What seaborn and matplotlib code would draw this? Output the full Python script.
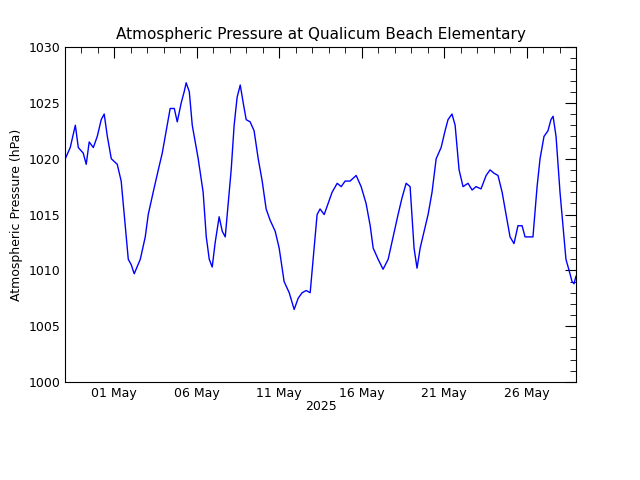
import matplotlib
matplotlib.use("Agg")
import matplotlib.pyplot as plt
import matplotlib.dates as mdates
import seaborn as sns
import pandas as pd
import numpy as np

# days since 2025-05-01 00:00 and pressure (hPa)
days = [-2.97, -2.67, -2.36, -2.18, -1.88, -1.70, -1.52, -1.27, -1.03, -0.79,
        -0.61, -0.42, -0.18, 0.18, 0.42, 0.73, 0.85, 1.03, 1.21, 1.58,
        1.88, 2.06, 2.36, 2.67, 2.91, 3.15, 3.39, 3.64, 3.82, 4.06,
        4.24, 4.36, 4.55, 4.73, 4.91, 5.09, 5.39, 5.58, 5.76, 5.94,
        6.12, 6.36, 6.55, 6.73, 6.91, 7.09, 7.27, 7.45, 7.64, 7.82,
        8.00, 8.24, 8.48, 8.73, 8.97, 9.21, 9.45, 9.76, 10.00, 10.30,
        10.61, 10.91, 11.15, 11.39, 11.64, 11.88, 12.06, 12.30, 12.48, 12.73,
        12.97, 13.21, 13.52, 13.76, 14.00, 14.30, 14.67, 14.97, 15.27, 15.52,
        15.70, 16.00, 16.30, 16.61, 16.91, 17.21, 17.45, 17.70, 17.94, 18.18,
        18.36, 18.55, 18.79, 19.03, 19.27, 19.52, 19.82, 20.06, 20.24, 20.48,
        20.67, 20.91, 21.15, 21.45, 21.70, 21.94, 22.24, 22.55, 22.79, 23.03,
        23.27, 23.52, 23.76, 24.00, 24.24, 24.48, 24.73, 24.91, 25.15, 25.39,
        25.64, 25.82, 26.06, 26.30, 26.48, 26.61, 26.79, 27.03, 27.21, 27.39,
        27.58, 27.76, 27.88, 28.00]
pressure = [1020, 1021, 1023, 1021, 1020.5, 1019.5, 1021.5, 1021, 1022, 1023.5,
            1024, 1022, 1020, 1019.5, 1018, 1013, 1011, 1010.5, 1009.7, 1011,
            1013, 1015, 1017, 1019, 1020.5, 1022.5, 1024.5, 1024.5, 1023.3, 1025,
            1026, 1026.8, 1026, 1023, 1021.5, 1020, 1017, 1013, 1011, 1010.3,
            1012.5, 1014.8, 1013.5, 1013, 1016, 1019, 1023, 1025.5, 1026.6, 1025,
            1023.5, 1023.3, 1022.5, 1020, 1018, 1015.5, 1014.5, 1013.5, 1012, 1009,
            1008, 1006.5, 1007.5, 1008, 1008.2, 1008, 1011, 1015, 1015.5, 1015,
            1016, 1017, 1017.8, 1017.5, 1018, 1018, 1018.5, 1017.5, 1016, 1014,
            1012, 1011, 1010.1, 1011, 1013, 1015, 1016.5, 1017.8, 1017.5, 1012,
            1010.2, 1012, 1013.5, 1015, 1017, 1020, 1021, 1022.5, 1023.5, 1024,
            1023, 1019, 1017.5, 1017.8, 1017.2, 1017.5, 1017.3, 1018.5, 1019, 1018.7,
            1018.5, 1017, 1015, 1013, 1012.4, 1014, 1014, 1013, 1013, 1013,
            1017.5, 1020, 1022, 1022.5, 1023.5, 1023.8, 1022, 1017, 1014, 1011,
            1010, 1009, 1008.8, 1009.5]

t0 = pd.Timestamp("2025-05-01")
df = pd.DataFrame({"time": t0 + pd.to_timedelta(days, unit="D"), "p": pressure})

sns.set_style("white")
plt.rcParams["font.family"] = "DejaVu Sans"
plt.rcParams["text.color"] = "black"
plt.rcParams["axes.labelcolor"] = "black"
plt.rcParams["xtick.color"] = "black"
plt.rcParams["ytick.color"] = "black"
fig = plt.figure(figsize=(6.4, 4.8), dpi=100)
ax = fig.add_axes([0.102, 0.204, 0.798, 0.698])
sns.lineplot(data=df, x="time", y="p", ax=ax, color="blue", linewidth=1)

ax.set_xlim(df["time"].iloc[0], df["time"].iloc[-1])
ax.set_ylim(1000, 1030)
ax.set_yticks(np.arange(1000, 1031, 5))
ax.yaxis.set_minor_locator(matplotlib.ticker.MultipleLocator(1))
ax.xaxis.set_major_locator(mdates.DayLocator(bymonthday=[1, 6, 11, 16, 21, 26]))
ax.xaxis.set_major_formatter(mdates.DateFormatter("%d %b"))
ax.xaxis.set_minor_locator(mdates.DayLocator())
ax.tick_params(which="both", direction="in", top=True, right=True, labelsize=9)
ax.tick_params(which="major", length=8)
ax.tick_params(which="minor", length=4)
for s in ax.spines.values():
    s.set_color("black")
    s.set_linewidth(0.8)
ax.set_xlabel("2025", fontsize=9, labelpad=0)
ax.set_ylabel("Atmospheric Pressure (hPa)", fontsize=9)
ax.set_title("Atmospheric Pressure at Qualicum Beach Elementary", fontsize=11, color="black")
fig.savefig("out.png", dpi=100)
